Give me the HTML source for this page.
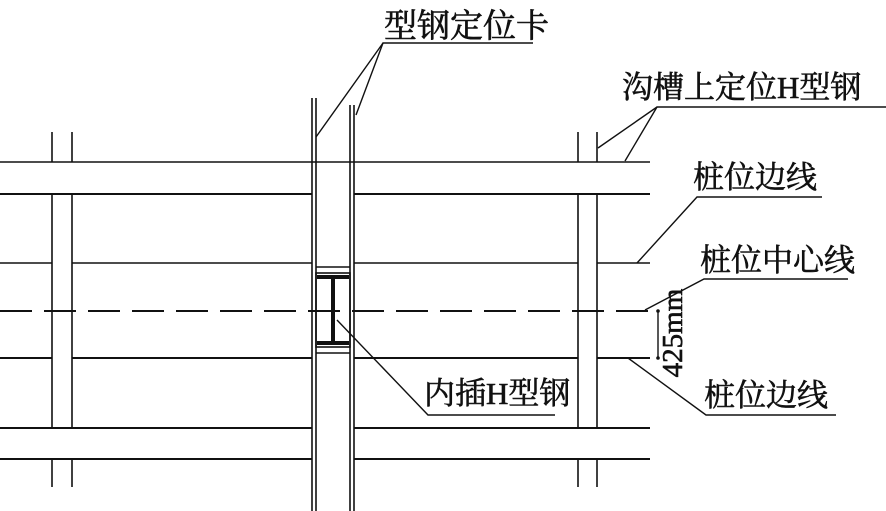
<!DOCTYPE html>
<html><head><meta charset="utf-8"><style>
html,body{margin:0;padding:0;background:#fff;}
svg{display:block;}
text{font-family:"Liberation Serif","Noto Serif CJK SC",serif;fill:#111;stroke:#111;stroke-width:0.6;}
</style></head><body>
<svg width="886" height="511" viewBox="0 0 886 511" xmlns="http://www.w3.org/2000/svg">
<g stroke="#111" stroke-width="1.6" fill="none">
<line x1="0" y1="162" x2="650" y2="162"/>
<line x1="0" y1="194" x2="312" y2="194" stroke-width="2"/>
<line x1="354" y1="194" x2="650" y2="194" stroke-width="2"/>
<line x1="0" y1="263" x2="52" y2="263"/>
<line x1="72" y1="263" x2="312" y2="263"/>
<line x1="354" y1="263" x2="578" y2="263"/>
<line x1="597" y1="263" x2="650" y2="263"/>
<line x1="0" y1="358" x2="52" y2="358" stroke-width="2"/>
<line x1="72" y1="358" x2="312" y2="358" stroke-width="2"/>
<line x1="354" y1="358" x2="578" y2="358" stroke-width="2"/>
<line x1="597" y1="358" x2="650" y2="358" stroke-width="2"/>
<line x1="0" y1="428" x2="312" y2="428" stroke-width="2"/>
<line x1="354" y1="428" x2="650" y2="428" stroke-width="2"/>
<line x1="0" y1="459" x2="312" y2="459" stroke-width="2"/>
<line x1="354" y1="459" x2="650" y2="459" stroke-width="2"/>
<line x1="0" y1="311" x2="655" y2="311" stroke-width="2" stroke-dasharray="32,12"/>
<line x1="52" y1="132" x2="52" y2="162"/><line x1="72" y1="132" x2="72" y2="162"/>
<line x1="52" y1="194" x2="52" y2="428"/><line x1="72" y1="194" x2="72" y2="428"/>
<line x1="52" y1="459" x2="52" y2="487"/><line x1="72" y1="459" x2="72" y2="487"/>
<line x1="578" y1="132" x2="578" y2="162"/><line x1="597" y1="132" x2="597" y2="162"/>
<line x1="578" y1="194" x2="578" y2="428"/><line x1="597" y1="194" x2="597" y2="428"/>
<line x1="578" y1="459" x2="578" y2="487"/><line x1="597" y1="459" x2="597" y2="487"/>
<line x1="312" y1="98" x2="312" y2="511"/><line x1="316" y1="98" x2="316" y2="511"/>
<line x1="350" y1="105" x2="350" y2="511"/><line x1="354" y1="105" x2="354" y2="511"/>
<line x1="316" y1="267" x2="350" y2="267"/>
<line x1="316" y1="353" x2="350" y2="353"/>
<rect x="316" y="273" width="34" height="74"/>
</g>
<rect x="317" y="275" width="32" height="4" fill="#111"/>
<rect x="317" y="341" width="32" height="4" fill="#111"/>
<rect x="331" y="277" width="4" height="66" fill="#111"/>
<g stroke="#111" stroke-width="1.4" fill="none">
<polyline points="316,137 383,43 533,43"/>
<line x1="383" y1="43" x2="356" y2="115"/>
<polyline points="598,148 657,107 886,107"/>
<line x1="657" y1="107" x2="625" y2="161"/>
<polyline points="637,263 697,197 822,197"/>
<polyline points="645,310 704,279 848,279"/>
<polyline points="628,358 706,415 836,415"/>
<polyline points="337,320 428,415 555,415"/>
<line x1="658" y1="311" x2="658" y2="358"/>
</g>
<circle cx="658" cy="311" r="1.8" fill="#111"/>
<circle cx="658" cy="358" r="1.8" fill="#111"/>
<text x="384" y="37" font-size="33">型钢定位卡</text>
<text x="622" y="98" font-size="31">沟槽上定位H型钢</text>
<text x="693" y="188" font-size="31">桩位边线</text>
<text x="700" y="271" font-size="31">桩位中心线</text>
<text x="704" y="406" font-size="31">桩位边线</text>
<text x="424" y="404" font-size="31">内插H型钢</text>
<text transform="translate(682,333) rotate(-90)" text-anchor="middle" font-size="29">425mm</text>
</svg>
</body></html>
